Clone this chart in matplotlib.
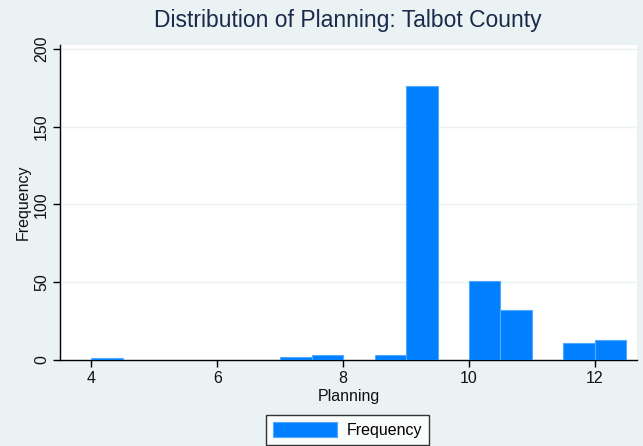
import matplotlib
matplotlib.use("Agg")
import matplotlib.pyplot as plt
from matplotlib.patches import Patch

plt.rcParams['font.family'] = ['Liberation Sans', 'DejaVu Sans']

# Histogram data (bin start, width 0.5)
bin_starts = [4.0, 7.0, 7.5, 8.5, 9.0, 10.0, 10.5, 11.5, 12.0]
counts = [1, 2, 3, 3, 176, 51, 32, 11, 13]
bin_width = 0.5
xticks = [4, 6, 8, 10, 12]
yticks = [0, 50, 100, 150, 200]

bg = '#eaf2f3'
bar_color = '#0080ff'
edge_color = '#52a8ff'
txt = '#111111'
fs = 11.5

W, H = 643, 446
fig = plt.figure(figsize=(W / 100, H / 100), dpi=100)
fig.patch.set_facecolor(bg)

ax = fig.add_axes([60 / W, 1 - 360 / H, (637 - 60) / W, (360 - 45) / H])
ax.set_facecolor('white')

ax.bar(bin_starts, counts, width=bin_width, align='edge',
       color=bar_color, edgecolor=edge_color, linewidth=0.8, zorder=3)

ax.set_xlim(3.5, 12.67)
ax.set_ylim(0, 202.5)
ax.set_xticks(xticks)
ax.set_yticks(yticks)
for y in yticks[1:]:
    ax.axhline(y, color=bg, linewidth=1.0, zorder=1)

for s in ['top', 'right']:
    ax.spines[s].set_visible(False)
for s in ['left', 'bottom']:
    ax.spines[s].set_color('black')
    ax.spines[s].set_linewidth(1.0)

ax.tick_params(axis='both', direction='out', length=5, width=1.0,
               labelsize=fs, colors='black', labelcolor=txt)
ax.tick_params(axis='x', pad=3)
ax.tick_params(axis='y', pad=3)
for lbl in ax.get_yticklabels():
    lbl.set_rotation(90)
    lbl.set_va('center')

ax.set_xlabel('Planning', fontsize=fs, labelpad=2, color=txt)
ax.set_ylabel('Frequency', fontsize=fs, labelpad=2, color=txt)

fig.text(348 / W, 1 - 21 / H, 'Distribution of Planning: Talbot County',
         ha='center', va='center', fontsize=16.5, color='#1a2a4a')

handle = Patch(facecolor=bar_color, edgecolor=edge_color, linewidth=0.8)
leg = fig.legend([handle], ['Frequency'], loc='lower center',
                 bbox_to_anchor=(347.5 / W, 1 / H), ncol=1, frameon=True,
                 fancybox=False, edgecolor='black', fontsize=fs,
                 handlelength=4.0, handleheight=1.1, borderpad=0.45,
                 handletextpad=0.62, borderaxespad=0)
leg.get_frame().set_linewidth(1.0)
leg.get_frame().set_facecolor('white')

fig.savefig('out.png', dpi=100, facecolor=bg)
